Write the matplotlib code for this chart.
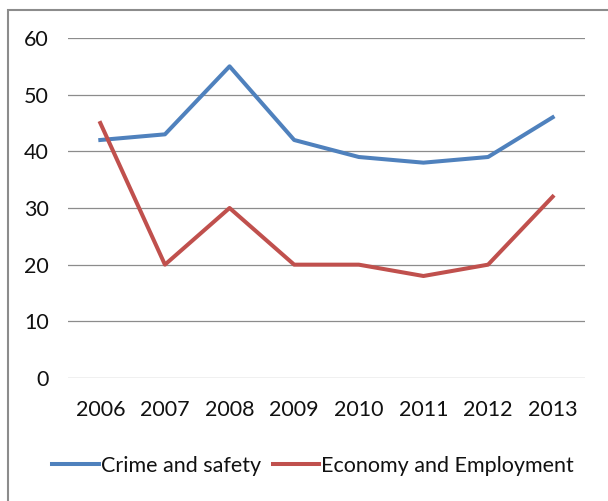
import matplotlib
matplotlib.use("Agg")
import matplotlib.pyplot as plt
from matplotlib.patches import Rectangle

years = ["2006", "2007", "2008", "2009", "2010", "2011", "2012", "2013"]
crime = [42, 43, 55, 42, 39, 38, 39, 46]
economy = [45, 20, 30, 20, 20, 18, 20, 32]
yticks = [0, 10, 20, 30, 40, 50, 60]

plt.rcParams["font.family"] = ["Lato", "DejaVu Sans"]

fig = plt.figure(figsize=(6.08, 5.01), dpi=100)
fig.patch.set_facecolor("white")
# chart frame (right and bottom edges cut off in the reference)
fig.patches.append(Rectangle((8 / 608, -0.05), 1.2, 1 - 10 / 501 + 0.05,
                             transform=fig.transFigure, fill=False,
                             edgecolor="#8c8c8c", lw=1.5))

ax = fig.add_axes([68 / 608, 1 - 378 / 501, 517 / 608, 340 / 501])
x = range(len(years))
ax.plot(x, crime, color="#4F81BD", lw=2.9, label="Crime and safety")
ax.plot(x, economy, color="#C0504D", lw=2.9, label="Economy and Employment")

ax.set_xlim(-0.5, len(years) - 0.5)
ax.set_ylim(0, 60)
ax.set_yticks(yticks)
ax.set_xticks(list(x))
ax.set_xticklabels(years)
ax.grid(axis="y", color="#8c8c8c", lw=0.9)
ax.set_axisbelow(True)
for s in ax.spines.values():
    s.set_visible(False)
ax.tick_params(length=0, labelsize=15.5, colors="#111111")
ax.tick_params(axis="y", pad=14)
ax.tick_params(axis="x", pad=16)

fig.legend(loc="center", bbox_to_anchor=(0.515, 0.07), ncol=2, frameon=False,
           fontsize=15.5, handlelength=2.15, handletextpad=0.1, columnspacing=0.55,
           labelcolor="#111111")

fig.savefig("out.png", dpi=100)
